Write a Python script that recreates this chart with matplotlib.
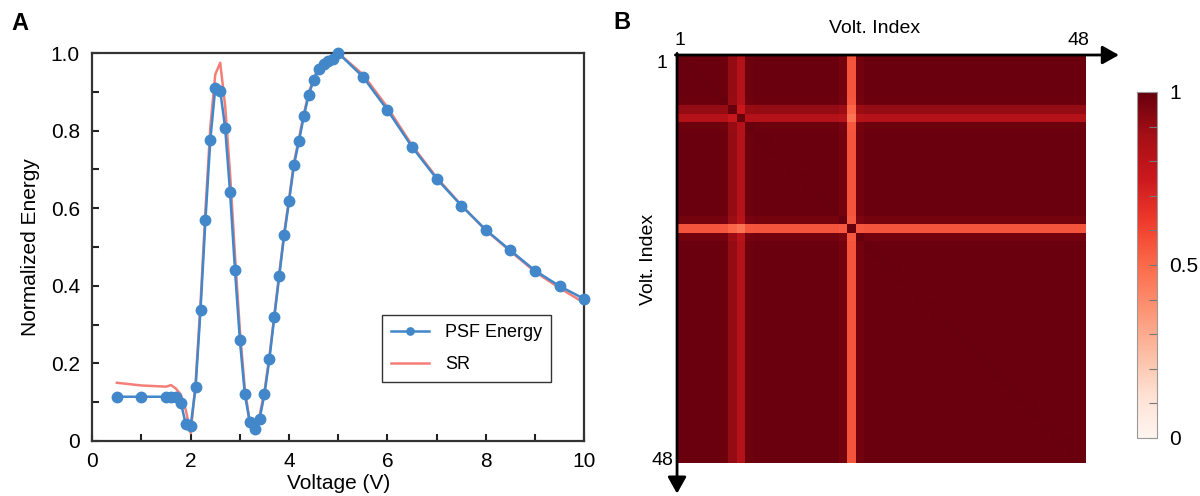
import numpy as np
import matplotlib
matplotlib.use("Agg")
import matplotlib.pyplot as plt

plt.rcParams['font.family'] = ['Liberation Sans', 'DejaVu Sans']

# panel A data
voltage = [0.5, 1.0, 1.5, 1.6, 1.7, 1.8, 1.9, 2.0,
           2.1, 2.2, 2.3, 2.4, 2.5, 2.6, 2.7, 2.8, 2.9, 3.0,
           3.1, 3.2, 3.3, 3.4, 3.5, 3.6, 3.7, 3.8, 3.9, 4.0,
           4.1, 4.2, 4.3, 4.4, 4.5, 4.6, 4.7, 4.8, 4.9, 5.0,
           5.5, 6.0, 6.5, 7.0, 7.5, 8.0, 8.5, 9.0, 9.5, 10.0]
psf_energy = [0.114, 0.114, 0.114, 0.114, 0.113, 0.099, 0.043, 0.039,
              0.138, 0.338, 0.569, 0.777, 0.910, 0.903, 0.808, 0.642, 0.441, 0.260,
              0.121, 0.049, 0.030, 0.056, 0.121, 0.211, 0.319, 0.425, 0.530, 0.618,
              0.712, 0.773, 0.837, 0.893, 0.930, 0.958, 0.972, 0.980, 0.986, 1.000,
              0.939, 0.853, 0.758, 0.676, 0.607, 0.544, 0.491, 0.439, 0.399, 0.366]
sr = [0.150, 0.143, 0.140, 0.144, 0.135, 0.119, 0.080, 0.020,
      0.150, 0.355, 0.595, 0.810, 0.945, 0.975, 0.865, 0.690, 0.480, 0.285,
      0.135, 0.050, 0.035, 0.065, 0.128, 0.218, 0.325, 0.432, 0.536, 0.625,
      0.718, 0.780, 0.843, 0.898, 0.935, 0.962, 0.978, 0.986, 0.992, 1.000,
      0.945, 0.860, 0.762, 0.679, 0.608, 0.543, 0.489, 0.436, 0.394, 0.356]

# panel B: per-index similarity factor (matrix = outer product, diagonal = 1)
band = [0.995] * 48
band[5] = 0.99
band[6] = 0.91
band[7] = 0.83
band[8] = 0.99
band[19] = 0.975
band[20] = 0.56
band[21] = 0.98

blue = '#4287c9'
red = '#f37f78'

fig = plt.figure(figsize=(12, 4.96), dpi=100)

# ---- panel A ----
ax = fig.add_axes([0.0769, 0.111, 0.41, 0.782])
ax.plot(voltage, sr, color=red, lw=1.8, label='SR', clip_on=False, zorder=2)
ax.plot(voltage, psf_energy, color=blue, lw=1.8, marker='o', ms=7.5,
        label='PSF Energy', clip_on=False, zorder=3)
ax.set_xlim(0, 10)
ax.set_ylim(0, 1.0)
ax.set_xticks([0, 2, 4, 6, 8, 10])
ax.set_xticks([1, 3, 5, 7, 9], minor=True)
ax.set_yticks([0, 0.2, 0.4, 0.6, 0.8, 1.0])
ax.set_yticklabels(['0', '0.2', '0.4', '0.6', '0.8', '1.0'])
ax.set_yticks([0.1, 0.3, 0.5, 0.7, 0.9], minor=True)
for s in ax.spines.values():
    s.set_linewidth(1.6)
    s.set_color('#333333')
ax.tick_params(which='both', direction='in', length=5, width=1.5,
               color='#222222', labelsize=15, top=False, right=False)
ax.tick_params(axis='y', pad=9)
ax.tick_params(axis='x', pad=8)
ax.set_xlabel('Voltage (V)', fontsize=15, labelpad=2)
ax.set_ylabel('Normalized Energy', fontsize=15, labelpad=8)

h, l = ax.get_legend_handles_labels()
leg = ax.legend(h[::-1], l[::-1], loc='upper left', bbox_to_anchor=(0.589, 0.325),
                fontsize=13, frameon=True, fancybox=False, edgecolor='black',
                handlelength=2.1, handletextpad=0.9, labelspacing=0.85,
                borderpad=0.5, markerscale=0.7, borderaxespad=0)
leg.get_frame().set_linewidth(1.0)

fig.text(0.017, 0.953, 'A', fontsize=17, fontweight='bold', ha='center', va='center')

# ---- panel B ----
b = np.array(band)
sim = np.outer(b, b)
np.fill_diagonal(sim, 1.0)

ax2 = fig.add_axes([0.5642, 0.0665, 0.34, 0.8226])
im = ax2.imshow(sim, cmap='Reds', vmin=0, vmax=1, interpolation='nearest', aspect='auto')
ax2.set_xticks([])
ax2.set_yticks([])
for s in ax2.spines.values():
    s.set_visible(False)

arrow = dict(arrowstyle='-|>,head_length=0.5,head_width=0.28', lw=2, color='black',
             shrinkA=0, shrinkB=0, mutation_scale=20)
ax2.annotate('', xy=(1.083, 1.0), xytext=(-0.004, 1.0), xycoords='axes fraction',
             arrowprops=arrow, annotation_clip=False)
ax2.annotate('', xy=(0.0, -0.075), xytext=(0.0, 1.004), xycoords='axes fraction',
             arrowprops=arrow, annotation_clip=False)

ax2.text(0.485, 1.064, 'Volt. Index', transform=ax2.transAxes, fontsize=14,
         ha='center', va='center')
ax2.text(0.008, 1.035, '1', transform=ax2.transAxes, fontsize=14, ha='center', va='center')
ax2.text(0.985, 1.035, '48', transform=ax2.transAxes, fontsize=14, ha='center', va='center')
ax2.text(-0.037, 0.98, '1', transform=ax2.transAxes, fontsize=14, ha='center', va='center')
ax2.text(-0.037, 0.007, '48', transform=ax2.transAxes, fontsize=14, ha='center', va='center')
ax2.text(-0.07, 0.5, 'Volt. Index', transform=ax2.transAxes, fontsize=14,
         ha='center', va='center', rotation=90)

fig.text(0.518, 0.955, 'B', fontsize=17, fontweight='bold', ha='center', va='center')

# colorbar
cax = fig.add_axes([0.9475, 0.117, 0.0167, 0.6976])
cb = fig.colorbar(im, cax=cax)
cb.outline.set_edgecolor('#999999')
cb.outline.set_linewidth(0.8)
cb.set_ticks([0, 0.1, 0.2, 0.3, 0.4, 0.5, 0.6, 0.7, 0.8, 0.9, 1.0])
cb.set_ticklabels(['0', '', '', '', '', '0.5', '', '', '', '', '1'])
cax.tick_params(direction='in', length=6, width=0.8, color='#777777',
                labelsize=15, pad=9)

fig.savefig('out.png', dpi=100)
